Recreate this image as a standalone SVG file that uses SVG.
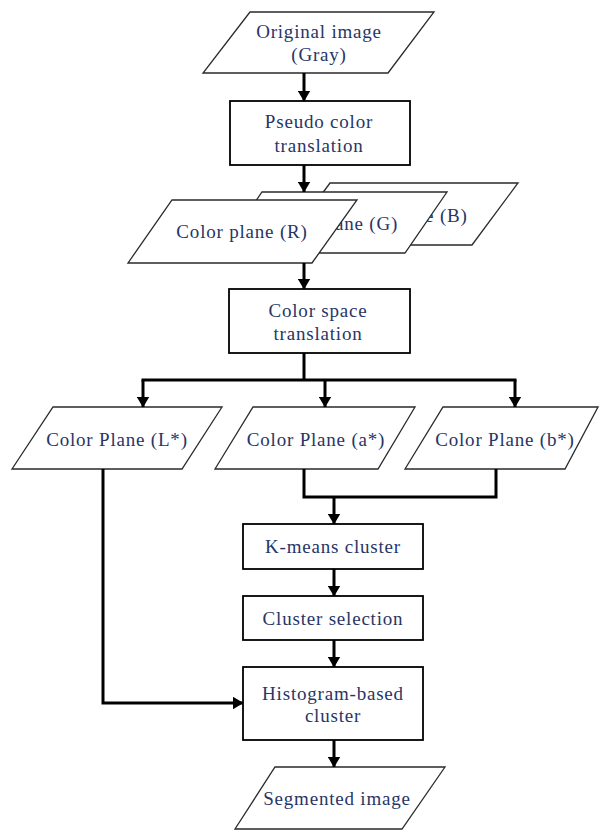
<svg xmlns="http://www.w3.org/2000/svg" width="599" height="831" viewBox="0 0 599 831">
<defs>
<style>
.box{fill:#fff;stroke:#000;stroke-width:1.8}
.para{fill:#fff;stroke:#2a2a2a;stroke-width:1.3}
.t{font-family:"Liberation Serif","Times New Roman",serif;font-size:19px;letter-spacing:0.8px;fill:#283566;text-anchor:middle}
.c{fill:none;stroke:#000;stroke-width:3}
</style>
<marker id="ah" viewBox="0 0 11 13" refX="10.5" refY="6.5" markerWidth="11" markerHeight="13" markerUnits="userSpaceOnUse" orient="auto">
<path d="M0,0 L11,6.5 L0,13 Z" fill="#000"/>
</marker>
</defs>
<rect width="599" height="831" fill="#fff"/>

<g id="original">
<polygon class="para" points="250,12 434,12 388,73 203,73"/>
<text class="t" x="319" y="38">Original image</text>
<text class="t" x="319" y="61">(Gray)</text>
</g>

<g id="pseudo">
<rect class="box" x="230" y="101" width="180" height="64"/>
<text class="t" x="319" y="128">Pseudo color</text>
<text class="t" x="319" y="152">translation</text>
</g>

<g id="plane-b">
<polygon class="para" points="330,183 518,183 472,245 284,245"/>
<text class="t" x="402" y="222">Color plane (B)</text>
</g>
<g id="plane-g">
<polygon class="para" points="262,192 447,192 405,253 220,253"/>
<text class="t" x="332" y="230">Color plane (G)</text>
</g>
<g id="plane-r">
<polygon class="para" points="172,200 357,200 312,263 128,263"/>
<text class="t" x="242" y="238">Color plane (R)</text>
</g>

<g id="colorspace">
<rect class="box" x="229" y="289" width="181" height="64"/>
<text class="t" x="318" y="317">Color space</text>
<text class="t" x="318" y="340">translation</text>
</g>

<g id="plane-l">
<polygon class="para" points="53,407 222,407 182,469 12,469"/>
<text class="t" x="117" y="446">Color Plane (L*)</text>
</g>
<g id="plane-a">
<polygon class="para" points="253,407 415,407 378,469 215,469"/>
<text class="t" x="316" y="446">Color Plane (a*)</text>
</g>
<g id="plane-bstar">
<polygon class="para" points="443,407 598,407 565,469 405,469"/>
<text class="t" x="505" y="446">Color Plane (b*)</text>
</g>

<g id="kmeans">
<rect class="box" x="243" y="524" width="180" height="45"/>
<text class="t" x="333" y="553">K-means cluster</text>
</g>
<g id="selection">
<rect class="box" x="243" y="596" width="180" height="44"/>
<text class="t" x="333" y="625">Cluster selection</text>
</g>
<g id="histogram">
<rect class="box" x="243" y="667" width="180" height="73"/>
<text class="t" x="333" y="700">Histogram-based</text>
<text class="t" x="333" y="722">cluster</text>
</g>
<g id="segmented">
<polygon class="para" points="275,767 445,767 402,829 235,829"/>
<text class="t" x="337" y="805">Segmented image</text>
</g>

<g id="connectors">
<path class="c" d="M304,73 V101" marker-end="url(#ah)"/>
<path class="c" d="M304,165 V192" marker-end="url(#ah)"/>
<path class="c" d="M304,263 V289" marker-end="url(#ah)"/>
<path class="c" d="M304,353 V380"/>
<path class="c" d="M141.5,380 H516.5"/>
<path class="c" d="M143,380 V407" marker-end="url(#ah)"/>
<path class="c" d="M325,380 V407" marker-end="url(#ah)"/>
<path class="c" d="M515,380 V407" marker-end="url(#ah)"/>
<path class="c" d="M304,469 V497 H496 V469"/>
<path class="c" d="M334,497 V524" marker-end="url(#ah)"/>
<path class="c" d="M334,569 V596" marker-end="url(#ah)"/>
<path class="c" d="M334,640 V667" marker-end="url(#ah)"/>
<path class="c" d="M103,469 V703 H243" marker-end="url(#ah)"/>
<path class="c" d="M334,740 V767" marker-end="url(#ah)"/>
</g>
</svg>
